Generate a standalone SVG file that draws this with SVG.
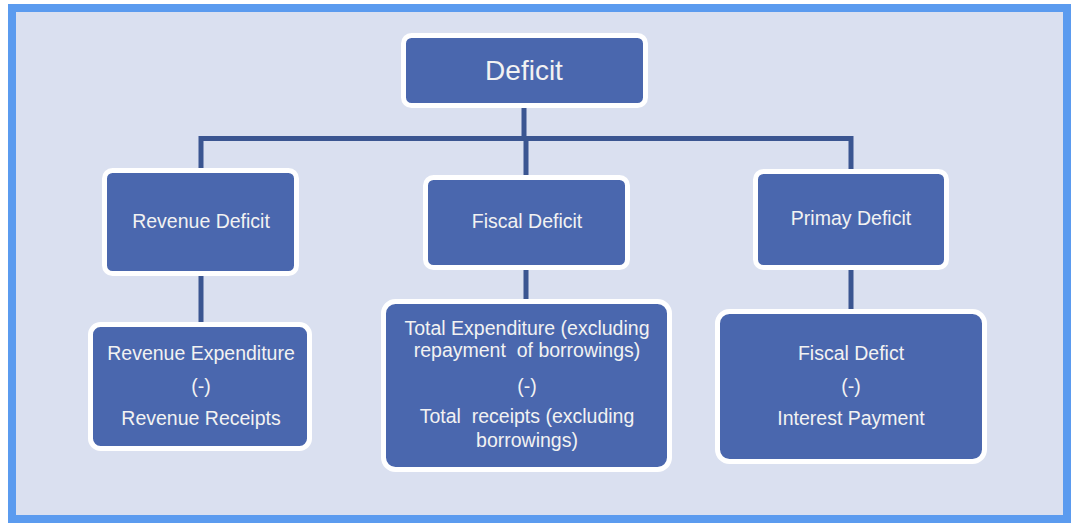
<svg xmlns="http://www.w3.org/2000/svg" width="1071" height="523" viewBox="0 0 1071 523">
<style>
.box{fill:#4A67AE;stroke:#FFFFFF;stroke-width:5}
.t{font-family:"Liberation Sans",Arial,sans-serif;font-size:19.5px;fill:#F2F2F2;text-anchor:middle}
.big{font-size:28px}
.con{stroke:#3A5591;stroke-width:5;fill:none}
</style>
<rect x="12" y="8" width="1055" height="511" fill="#DAE0F0" stroke="#5B9BEF" stroke-width="8"/>
<g id="connectors">
<path class="con" d="M524,105 V138.5 M201,170 V138.5 H851 V171 M526,138.5 V177"/>
<path class="con" d="M201,273 V324"/>
<path class="con" d="M526,267 V301"/>
<path class="con" d="M851,267 V311"/>
</g>
<g id="deficit">
<rect class="box" x="403.5" y="35.5" width="242" height="70" rx="8"/>
<text class="t big" x="524" y="80">Deficit</text>
</g>
<g id="revenue-deficit">
<rect class="box" x="104.5" y="170.5" width="192" height="103" rx="8"/>
<text class="t" x="201" y="228">Revenue Deficit</text>
</g>
<g id="fiscal-deficit">
<rect class="box" x="425.5" y="177.5" width="202" height="90" rx="8"/>
<text class="t" x="527" y="228">Fiscal Deficit</text>
</g>
<g id="primary-deficit">
<rect class="box" x="755.5" y="171.5" width="191" height="96" rx="8"/>
<text class="t" x="851" y="225">Primay Deficit</text>
</g>
<g id="revenue-formula">
<rect class="box" x="90.5" y="324.5" width="219" height="124" rx="10"/>
<text class="t" x="201" y="360">Revenue Expenditure</text>
<text class="t" x="201" y="393">(-)</text>
<text class="t" x="201" y="425">Revenue Receipts</text>
</g>
<g id="fiscal-formula">
<rect class="box" x="383.5" y="301.5" width="286" height="168" rx="12"/>
<text class="t" x="527" y="335">Total Expenditure (excluding</text>
<text class="t" x="527" y="357" xml:space="preserve">repayment  of borrowings)</text>
<text class="t" x="527" y="393">(-)</text>
<text class="t" x="527" y="423" xml:space="preserve">Total  receipts (excluding</text>
<text class="t" x="527" y="447">borrowings)</text>
</g>
<g id="primary-formula">
<rect class="box" x="717.5" y="311.5" width="267" height="150" rx="12"/>
<text class="t" x="851" y="360">Fiscal Defict</text>
<text class="t" x="851" y="393">(-)</text>
<text class="t" x="851" y="425">Interest Payment</text>
</g>
</svg>
